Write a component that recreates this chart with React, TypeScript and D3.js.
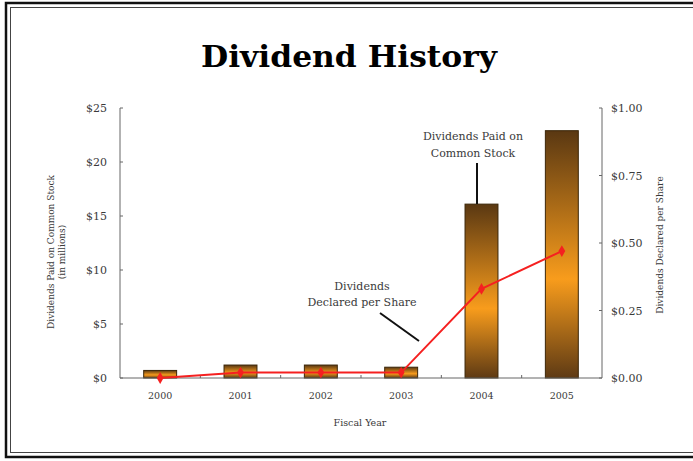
import React from "react";
import * as d3 from "d3";

const years = ["2000", "2001", "2002", "2003", "2004", "2005"];
const paidMillions = [0.7, 1.2, 1.2, 1.0, 16.1, 22.9];
const declaredPerShare = [0.0, 0.02, 0.02, 0.02, 0.33, 0.47];
const leftTicks = [0, 5, 10, 15, 20, 25];
const rightTicks = [0, 0.25, 0.5, 0.75, 1.0];

const W = 693;
const H = 461;
const M = { left: 120, right: 602, top: 108, bottom: 378 };

export default function App() {
  const x = d3.scaleBand<string>().domain(years).range([M.left, M.right]).paddingInner(0.59).paddingOuter(0.295);
  const yL = d3.scaleLinear().domain([0, 25]).range([M.bottom, M.top]);
  const yR = d3.scaleLinear().domain([0, 1]).range([M.bottom, M.top]);
  const step = (M.right - M.left) / years.length;
  const cx = (y: string) => (x(y) as number) + x.bandwidth() / 2;
  const line = d3
    .line<number>()
    .x((_, i) => cx(years[i]))
    .y((d) => yR(d));
  const diamond = d3.symbol().type(d3.symbolDiamond).size(40)() as string;
  const font = "'DejaVu Serif', serif";
  const txt = "#3a3a3a";

  return (
    <svg width={W} height={H} style={{ position: "absolute", left: 0, top: 0, background: "#fff" }}>
      <defs>
        <linearGradient id="barGrad" x1="0" y1="0" x2="0" y2="1">
          <stop offset="0" stopColor="#5a3812" />
          <stop offset="0.6" stopColor="#f89c1c" />
          <stop offset="1" stopColor="#5e3a14" />
        </linearGradient>
      </defs>
      {/* frame */}
      <rect x={6} y={3} width={740} height={454} fill="none" stroke="#111" strokeWidth={2.5} />
      <rect x={10.5} y={7.5} width={730} height={445} fill="none" stroke="#444" strokeWidth={1} />

      <text x={349} y={67} textAnchor="middle" fontFamily="'DejaVu Serif', serif" fontWeight="bold" fontSize={30} textLength={296} lengthAdjust="spacingAndGlyphs" fill="#000">
        Dividend History
      </text>

      {/* bars */}
      {paidMillions.map((v, i) => (
        <rect
          key={years[i]}
          x={x(years[i])}
          y={yL(v)}
          width={x.bandwidth()}
          height={M.bottom - yL(v)}
          fill="url(#barGrad)"
          stroke="#3b2608"
          strokeWidth={1}
        />
      ))}

      {/* axes */}
      <line x1={M.left} x2={M.right} y1={M.bottom} y2={M.bottom} stroke="#666" strokeWidth={1} />
      <line x1={M.left} x2={M.left} y1={M.top} y2={M.bottom} stroke="#666" strokeWidth={1} />
      <line x1={M.right} x2={M.right} y1={M.top} y2={M.bottom} stroke="#666" strokeWidth={1} />
      {leftTicks.map((t) => (
        <g key={"l" + t}>
          <line x1={M.left} x2={M.left + 3} y1={yL(t)} y2={yL(t)} stroke="#666" />
          <text x={M.left - 13} y={yL(t) + 4} textAnchor="end" fontFamily={font} fontSize={11} fill={txt}>
            {"$" + t}
          </text>
        </g>
      ))}
      {rightTicks.map((t) => (
        <g key={"r" + t}>
          <line x1={M.right - 3} x2={M.right} y1={yR(t)} y2={yR(t)} stroke="#666" />
          <text x={M.right + 9} y={yR(t) + 4} textAnchor="start" fontFamily={font} fontSize={11} fill={txt}>
            {d3.format("$.2f")(t)}
          </text>
        </g>
      ))}
      {years.slice(1).map((_, i) => (
        <line key={"xt" + i} x1={M.left + step * (i + 1)} x2={M.left + step * (i + 1)} y1={M.bottom - 3} y2={M.bottom} stroke="#666" />
      ))}
      {years.map((y) => (
        <text key={"xl" + y} x={cx(y)} y={399} textAnchor="middle" fontFamily={font} fontSize={9.5} fill={txt}>
          {y}
        </text>
      ))}
      <text x={360} y={426} textAnchor="middle" fontFamily={font} fontSize={9.5} fill={txt}>
        Fiscal Year
      </text>

      <text transform="translate(54,252) rotate(-90)" textAnchor="middle" fontFamily={font} fontSize={9} fill={txt}>
        Dividends Paid on Common Stock
      </text>
      <text transform="translate(65,252) rotate(-90)" textAnchor="middle" fontFamily={font} fontSize={9} fill={txt}>
        (in millions)
      </text>
      <text transform="translate(663,245) rotate(-90)" textAnchor="middle" fontFamily={font} fontSize={9} fill={txt}>
        Dividends Declared per Share
      </text>

      {/* line */}
      <path d={line(declaredPerShare) as string} fill="none" stroke="#f52020" strokeWidth={2} />
      {declaredPerShare.map((v, i) => (
        <path key={"m" + i} d={diamond} transform={`translate(${cx(years[i])},${yR(v)})`} fill="#f52020" />
      ))}

      {/* annotations */}
      <text x={473} y={140} textAnchor="middle" fontFamily={font} fontSize={11} fill={txt}>
        Dividends Paid on
      </text>
      <text x={473} y={157} textAnchor="middle" fontFamily={font} fontSize={11} fill={txt}>
        Common Stock
      </text>
      <line x1={477} x2={477} y1={163} y2={yL(paidMillions[4])} stroke="#111" strokeWidth={2} />

      <text x={362} y={290} textAnchor="middle" fontFamily={font} fontSize={11} fill={txt}>
        Dividends
      </text>
      <text x={362} y={306} textAnchor="middle" fontFamily={font} fontSize={11} fill={txt}>
        Declared per Share
      </text>
      <line x1={380} x2={419} y1={313} y2={341} stroke="#111" strokeWidth={2} />
    </svg>
  );
}
